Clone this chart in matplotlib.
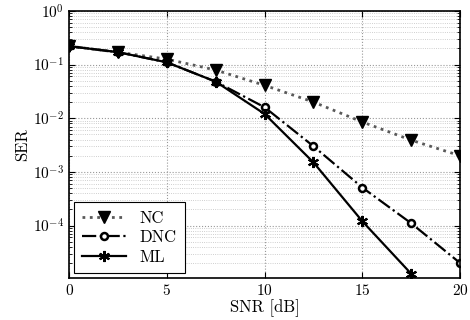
import numpy as np
import matplotlib
matplotlib.use("Agg")
import matplotlib.pyplot as plt
from matplotlib.legend_handler import HandlerLine2D
from matplotlib.ticker import LogLocator, NullFormatter, MultipleLocator

snr_db = [0, 2.5, 5, 7.5, 10, 12.5, 15, 17.5, 20]
ser_nc = [0.22, 0.17, 0.126, 0.079, 0.041, 0.020, 0.0085, 0.0039, 0.0020]
ser_dnc = [0.22, 0.17, 0.11, 0.048, 0.016, 0.0030, 0.00051, 0.00011, 2.0e-5]
ser_ml = [0.22, 0.17, 0.11, 0.048, 0.012, 0.0015, 1.2e-4, 1.26e-5, 1.0e-6]

plt.rcParams["font.family"] = "serif"
plt.rcParams["font.serif"] = ["cmr10", "DejaVu Serif"]
plt.rcParams["mathtext.fontset"] = "cm"
plt.rcParams["axes.formatter.use_mathtext"] = True


class MarkerLeftHandler(HandlerLine2D):
    """Legend entry with the marker drawn near the left end of the line."""

    def get_xdata(self, legend, xdescent, ydescent, width, height, fontsize):
        xdata = np.array([-xdescent, -xdescent + width])
        return xdata, np.array([-xdescent + 0.3 * width])


fig = plt.figure(figsize=(4.7, 3.2), dpi=100)
ax = fig.add_axes([0.147, 0.131, 0.832, 0.835])

ax.semilogy(snr_db, ser_nc, color="0.35", ls=":", lw=2.0, marker="v", ms=8,
            mfc="black", mec="black", label="NC")
ax.semilogy(snr_db, ser_dnc, color="black", ls="-.", lw=1.6, marker="o", ms=5,
            mfc="white", mec="black", mew=1.8, label="DNC")
ax.semilogy(snr_db, ser_ml, color="black", ls="-", lw=1.6, marker=(6, 2, 0), ms=8,
            mec="black", mew=1.5, label="ML")

ax.set_xlim(0, 20)
ax.set_ylim(1.05e-5, 1)
ax.xaxis.set_major_locator(MultipleLocator(5))
ax.yaxis.set_major_locator(LogLocator(base=10, numticks=10))
ax.yaxis.set_minor_locator(LogLocator(base=10, subs=np.arange(2, 10), numticks=10))
ax.yaxis.set_minor_formatter(NullFormatter())

ax.grid(True, which="major", ls=":", color="0.6", lw=0.8)
ax.grid(True, which="minor", axis="y", ls=":", color="0.75", lw=0.6)
ax.tick_params(which="both", direction="in", top=True, right=True, labelsize=11)
ax.tick_params(which="major", length=4)
ax.tick_params(which="minor", length=2)
for sp in ax.spines.values():
    sp.set_linewidth(1.2)

ax.set_xlabel("SNR [dB]", fontsize=12, labelpad=1)
ax.set_ylabel("SER", fontsize=12, labelpad=2)

leg = ax.legend(loc="lower left", fontsize=12, fancybox=False, framealpha=1,
                edgecolor="black", handlelength=2.6, borderaxespad=0.3,
                labelspacing=0.25, borderpad=0.5,
                handler_map={plt.Line2D: MarkerLeftHandler(numpoints=1)})
leg.get_frame().set_linewidth(0.8)

fig.savefig("out.png", dpi=100)
